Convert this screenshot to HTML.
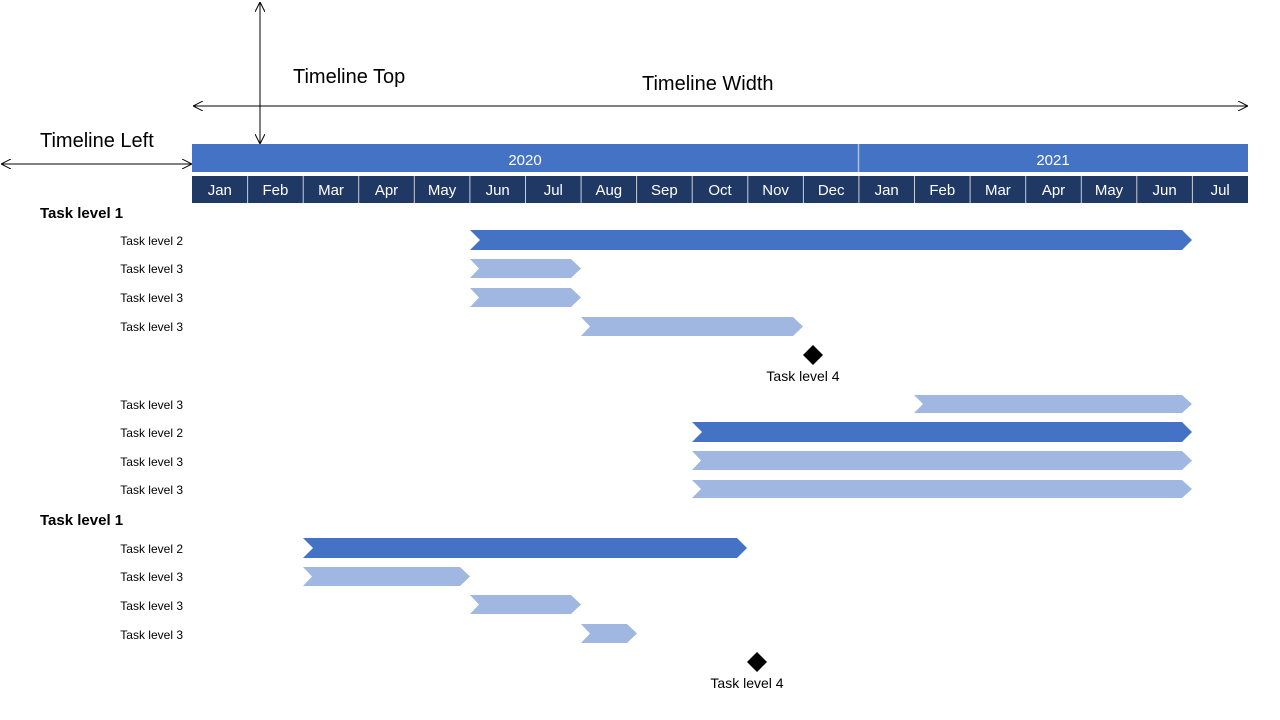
<!DOCTYPE html>
<html><head><meta charset="utf-8"><style>
html,body{margin:0;padding:0;background:#fff;}
svg{display:block;font-family:"Liberation Sans",Arial,sans-serif;}
</style></head><body>
<svg width="1280" height="720" viewBox="0 0 1280 720" xmlns="http://www.w3.org/2000/svg">
<defs>
<marker id="ah" viewBox="0 0 10 10" refX="10" refY="5" markerWidth="10" markerHeight="10" orient="auto-start-reverse" markerUnits="userSpaceOnUse">
<path d="M0,0 L10,5 L0,10" fill="none" stroke="#000" stroke-width="1"/>
</marker>
</defs>
<!-- dimension arrows -->
<line x1="260" y1="2" x2="260" y2="144" stroke="#000" stroke-width="1" marker-start="url(#ah)" marker-end="url(#ah)"/>
<line x1="193" y1="106" x2="1248" y2="106" stroke="#000" stroke-width="1" marker-start="url(#ah)" marker-end="url(#ah)"/>
<line x1="1" y1="164" x2="192" y2="164" stroke="#000" stroke-width="1" marker-start="url(#ah)" marker-end="url(#ah)"/>
<text x="293" y="83" font-size="20">Timeline Top</text>
<text x="642" y="90" font-size="20">Timeline Width</text>
<text x="40" y="147" font-size="20">Timeline Left</text>
<!-- year bar -->
<rect x="192" y="144" width="1056" height="28" fill="#4472c4"/>
<line x1="858.5" y1="144" x2="858.5" y2="172" stroke="#a9bfe6" stroke-width="1.5"/>
<text x="525" y="165" font-size="15" fill="#fff" text-anchor="middle">2020</text>
<text x="1053" y="165" font-size="15" fill="#fff" text-anchor="middle">2021</text>
<!-- months -->
<rect x="192" y="176" width="1056" height="27" fill="#203864"/>
<g stroke="#c8cfdc" stroke-width="1">
<line x1="247.6" y1="176" x2="247.6" y2="203"/><line x1="303.2" y1="176" x2="303.2" y2="203"/><line x1="358.7" y1="176" x2="358.7" y2="203"/><line x1="414.3" y1="176" x2="414.3" y2="203"/><line x1="469.9" y1="176" x2="469.9" y2="203"/><line x1="525.5" y1="176" x2="525.5" y2="203"/><line x1="581.1" y1="176" x2="581.1" y2="203"/><line x1="636.6" y1="176" x2="636.6" y2="203"/><line x1="692.2" y1="176" x2="692.2" y2="203"/><line x1="747.8" y1="176" x2="747.8" y2="203"/><line x1="803.4" y1="176" x2="803.4" y2="203"/><line x1="858.9" y1="176" x2="858.9" y2="203"/><line x1="914.5" y1="176" x2="914.5" y2="203"/><line x1="970.1" y1="176" x2="970.1" y2="203"/><line x1="1025.7" y1="176" x2="1025.7" y2="203"/><line x1="1081.3" y1="176" x2="1081.3" y2="203"/><line x1="1136.8" y1="176" x2="1136.8" y2="203"/><line x1="1192.4" y1="176" x2="1192.4" y2="203"/>
</g>
<g font-size="15" fill="#fff" text-anchor="middle">
<text x="219.8" y="195">Jan</text><text x="275.4" y="195">Feb</text><text x="331" y="195">Mar</text><text x="386.5" y="195">Apr</text><text x="442.1" y="195">May</text><text x="497.7" y="195">Jun</text><text x="553.3" y="195">Jul</text><text x="608.8" y="195">Aug</text><text x="664.4" y="195">Sep</text><text x="720" y="195">Oct</text><text x="775.6" y="195">Nov</text><text x="831.2" y="195">Dec</text><text x="886.7" y="195">Jan</text><text x="942.3" y="195">Feb</text><text x="997.9" y="195">Mar</text><text x="1053.5" y="195">Apr</text><text x="1109" y="195">May</text><text x="1164.6" y="195">Jun</text><text x="1220.2" y="195">Jul</text>
</g>
<!-- labels -->
<g font-size="15" font-weight="bold">
<text x="40" y="218">Task level 1</text>
<text x="40" y="525">Task level 1</text>
</g>
<g font-size="12" text-anchor="end">
<text x="183" y="245">Task level 2</text>
<text x="183" y="273">Task level 3</text>
<text x="183" y="302">Task level 3</text>
<text x="183" y="331">Task level 3</text>
<text x="183" y="409">Task level 3</text>
<text x="183" y="437">Task level 2</text>
<text x="183" y="466">Task level 3</text>
<text x="183" y="494">Task level 3</text>
<text x="183" y="553">Task level 2</text>
<text x="183" y="581">Task level 3</text>
<text x="183" y="610">Task level 3</text>
<text x="183" y="639">Task level 3</text>
</g>
<g font-size="14" text-anchor="middle">
<text x="803" y="381">Task level 4</text>
<text x="747" y="688">Task level 4</text>
</g>
<!-- bars: points x1,x2, yc -->
<g fill="#4472c4">
<polygon points="470,230 1182,230 1192,240 1182,250 470,250 480,240"/>
<polygon points="692,422 1182,422 1192,432 1182,442 692,442 702,432"/>
<polygon points="303,538 737,538 747,548 737,558 303,558 313,548"/>
</g>
<g fill="#a0b8e1">
<polygon points="470,259 571,259 581,268.5 571,278 470,278 479,268.5"/>
<polygon points="470,288 571,288 581,297.5 571,307 470,307 479,297.5"/>
<polygon points="581,317 793,317 803,326.5 793,336 581,336 590,326.5"/>
<polygon points="914,395 1182,395 1192,404 1182,413 914,413 923,404"/>
<polygon points="692,451 1182,451 1192,460.5 1182,470 692,470 701,460.5"/>
<polygon points="692,480 1182,480 1192,489 1182,498 692,498 701,489"/>
<polygon points="303,567 460,567 470,576.5 460,586 303,586 312,576.5"/>
<polygon points="470,595 571,595 581,604.5 571,614 470,614 479,604.5"/>
<polygon points="581,624 627,624 637,633.5 627,643 581,643 590,633.5"/>
</g>
<polygon points="813,345 823,355 813,365 803,355" fill="#000"/>
<polygon points="757,652 767,662 757,672 747,662" fill="#000"/>
</svg>
</body></html>
